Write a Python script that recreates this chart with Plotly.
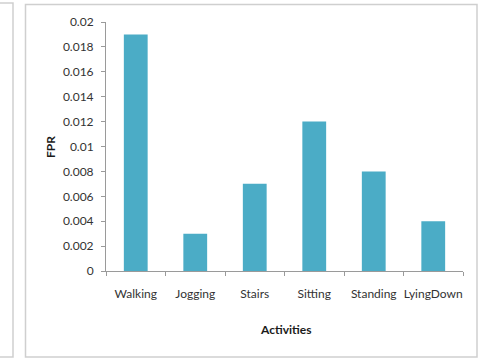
import plotly.graph_objects as go

# False positive rate per activity
activities = ["Walking", "Jogging", "Stairs", "Sitting", "Standing", "LyingDown"]
fpr = [0.019, 0.003, 0.007, 0.012, 0.008, 0.004]
y_ticks = [0, 0.002, 0.004, 0.006, 0.008, 0.01, 0.012, 0.014, 0.016, 0.018, 0.02]
y_tick_text = ["0", "0.002", "0.004", "0.006", "0.008", "0.01", "0.012",
               "0.014", "0.016", "0.018", "0.02"]

FONT = "Lato"
TEXT = "#333333"
AXIS = "#9a9a9a"
BAR = "#4BACC6"

fig = go.Figure(
    go.Bar(
        x=activities,
        y=fpr,
        width=0.4,
        marker=dict(color=BAR, line=dict(width=0)),
    )
)

# pixel-to-paper helpers for the plot area (l=106, r=17, t=22, b=87)
W, H = 480, 358
L, R, T, B = 106, 17, 22, 87
pw, ph = W - L - R, H - T - B


def px(x):
    return (x - L) / pw


def py(y):
    return (H - B - y) / ph


fig.update_layout(
    width=W,
    height=H,
    margin=dict(l=L, r=R, t=T, b=B),
    paper_bgcolor="white",
    plot_bgcolor="white",
    showlegend=False,
    font=dict(family=FONT, color=TEXT, size=12),
    xaxis=dict(
        automargin=False,
        tickangle=0,
        showline=True,
        linecolor=AXIS,
        linewidth=1,
        ticks="outside",
        tickson="boundaries",
        ticklen=4,
        tickcolor=AXIS,
        showgrid=False,
        ticklabelstandoff=12,
        tickfont=dict(family=FONT, size=12, color=TEXT),
    ),
    yaxis=dict(
        automargin=False,
        range=[0, 0.02],
        tickvals=y_ticks,
        ticktext=y_tick_text,
        showline=True,
        linecolor=AXIS,
        linewidth=1,
        ticks="outside",
        ticklen=4,
        tickcolor=AXIS,
        showgrid=False,
        zeroline=False,
        ticklabelstandoff=5,
        tickfont=dict(family=FONT, size=12, color=TEXT),
    ),
    annotations=[
        dict(text="<b>Activities</b>", xref="paper", yref="paper",
             x=px(285), y=py(329), xanchor="center", yanchor="middle",
             showarrow=False, font=dict(family=FONT, size=12, color="#1a1a1a")),
        dict(text="<b>FPR</b>", xref="paper", yref="paper",
             x=px(50), y=py(147), xanchor="center", yanchor="middle",
             textangle=-90, showarrow=False,
             font=dict(family=FONT, size=12, color="#1a1a1a")),
    ],
    shapes=[
        # chart frame
        dict(type="rect", xref="paper", yref="paper",
             x0=px(25.5), x1=px(477), y0=py(357), y1=py(4.5),
             line=dict(color="#cfcfcf", width=1.5), fillcolor="rgba(0,0,0,0)",
             layer="below"),
        # edge of the neighbouring panel
        dict(type="rect", xref="paper", yref="paper",
             x0=px(-5), x1=px(13), y0=py(357), y1=py(3),
             line=dict(color="#cfcfcf", width=1.5), fillcolor="rgba(0,0,0,0)",
             layer="below"),
    ],
)

fig.write_html("out.html")
